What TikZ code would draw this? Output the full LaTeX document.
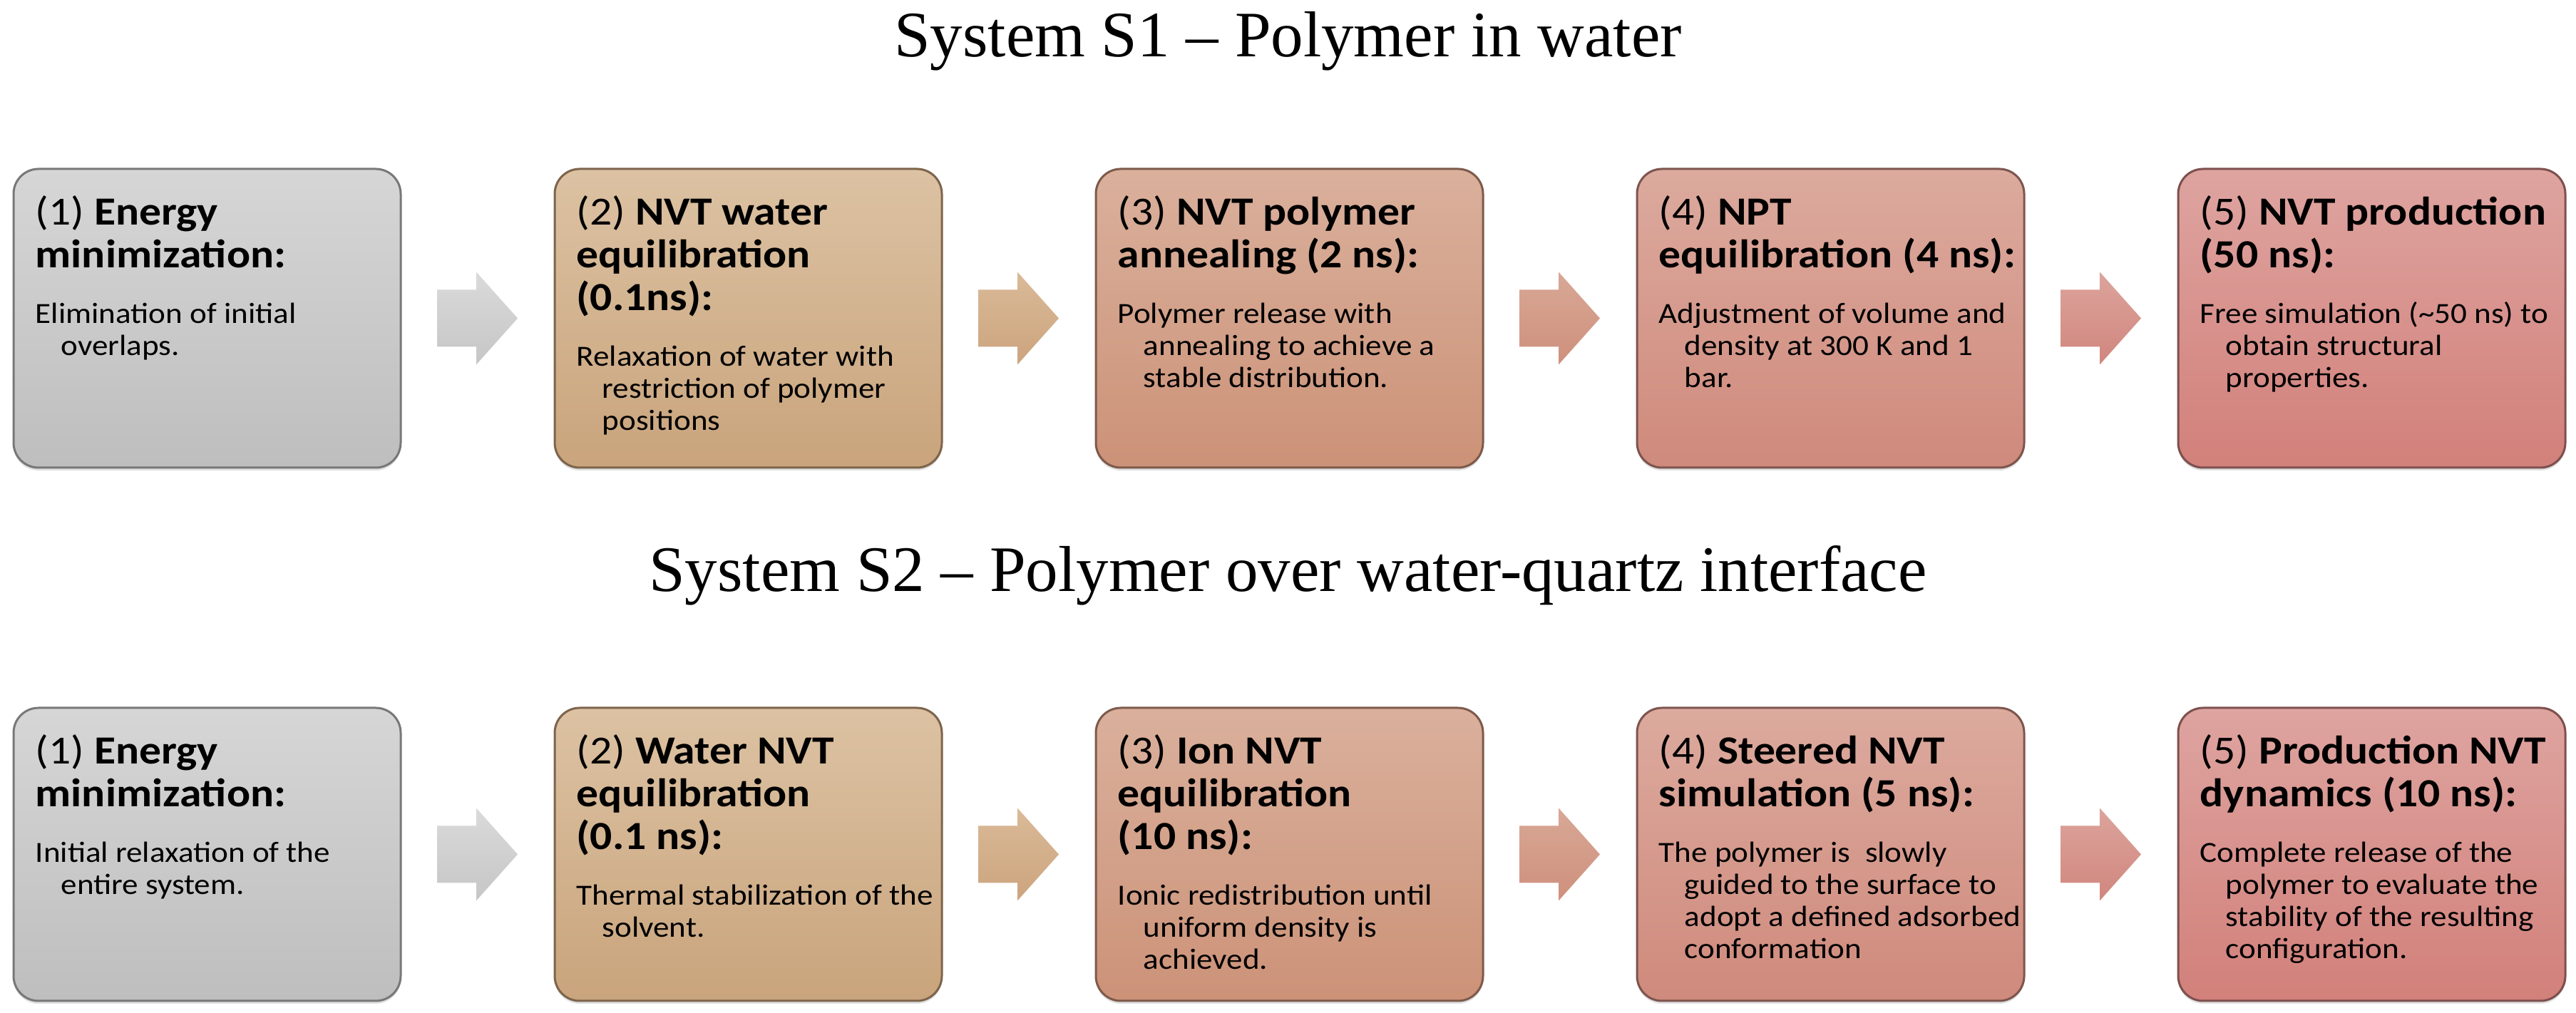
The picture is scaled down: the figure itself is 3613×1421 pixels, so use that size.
\documentclass[tikz,border=0pt]{standalone}
\usepackage{fontspec}
\setmainfont{Carlito}[FakeStretch=1.1]
\newfontfamily\titlefont{Liberation Serif}
\usetikzlibrary{calc,shadows}
\definecolor{g1t}{RGB}{214,214,214}\definecolor{g1b}{RGB}{190,190,190}\definecolor{g1d}{RGB}{120,120,120}
\definecolor{g2t}{RGB}{220,194,163}\definecolor{g2b}{RGB}{201,164,124}\definecolor{g2d}{RGB}{125,100,75}
\definecolor{g3t}{RGB}{218,176,156}\definecolor{g3b}{RGB}{204,146,120}\definecolor{g3d}{RGB}{125,90,75}
\definecolor{g4t}{RGB}{220,170,158}\definecolor{g4b}{RGB}{207,138,124}\definecolor{g4d}{RGB}{125,85,78}
\definecolor{g5t}{RGB}{222,164,160}\definecolor{g5b}{RGB}{210,128,122}\definecolor{g5d}{RGB}{125,80,78}
\definecolor{a1t}{RGB}{218,218,218}\definecolor{a1b}{RGB}{198,198,198}
\definecolor{a2t}{RGB}{218,186,152}\definecolor{a2b}{RGB}{204,164,126}
\definecolor{a3t}{RGB}{216,168,150}\definecolor{a3b}{RGB}{206,144,124}
\definecolor{a4t}{RGB}{220,164,156}\definecolor{a4b}{RGB}{208,134,126}
\tikzset{
  stepbox/.style={rectangle, rounded corners=35pt, minimum width=543pt, inner sep=0pt, line width=3pt,
    drop shadow={shadow xshift=0pt, shadow yshift=-4pt, opacity=0.25}},
  rowone/.style={minimum height=419pt},
  rowtwo/.style={minimum height=411pt},
  headline/.style={anchor=base west, inner sep=0pt, font=\fontsize{56}{60}\selectfont},
  bodyline/.style={anchor=base west, inner sep=0pt, font=\fontsize{41}{45}\selectfont},
  titletext/.style={anchor=base, inner sep=0pt, font=\titlefont\fontsize{91}{98}\selectfont},
}
\newcommand{\steptext}[4]{%
  \foreach \lineitem [count=\k] in {#3} {
    \node[headline] (#1h\k) at ($(#1.north west)+(32,{-80-60*(\k-1)})$) {\lineitem};
  }
  \foreach \lineitem [count=\k] in {#4} {
    \pgfmathsetmacro{\yy}{-80-60*(#2-1)-78-45*(\k-1)}
    \pgfmathsetmacro{\xx}{\k>1 ? 68 : 32}
    \node[bodyline] (#1d\k) at ($(#1.north west)+(\xx,\yy)$) {\lineitem};
  }
}
\newcommand{\blockarrow}[5]{%
  \coordinate (#5) at ($(#1.east)!0.5!(#2.west)$);
  \shade[top color=#3, bottom color=#4] ($(#5)+(-57,40)$) -- ($(#5)+(-2,40)$) -- ($(#5)+(-2,65)$)
    -- ($(#5)+(56,0)$) -- ($(#5)+(-2,-65)$) -- ($(#5)+(-2,-40)$) -- ($(#5)+(-57,-40)$) -- cycle;
}
\begin{document}
\begin{tikzpicture}[x=1pt,y=1pt]
\useasboundingbox[fill=white] (0,0) rectangle (3613,1421);
% titles
\node[titletext] (t1) at (1806.5,1341) {System S1 – Polymer in water};
\node[titletext] (t2) at (1806.5,591) {System S2 – Polymer over water-quartz interface};
% row 1 boxes
\node[stepbox,rowone,top color=g1t,bottom color=g1b,draw=g1d] (b1) at (290.5,974.5) {};
\node[stepbox,rowone,top color=g2t,bottom color=g2b,draw=g2d] (b2) at (1049.5,974.5) {};
\node[stepbox,rowone,top color=g3t,bottom color=g3b,draw=g3d] (b3) at (1808.5,974.5) {};
\node[stepbox,rowone,top color=g4t,bottom color=g4b,draw=g4d] (b4) at (2567.5,974.5) {};
\node[stepbox,rowone,top color=g5t,bottom color=g5b,draw=g5d] (b5) at (3326.5,974.5) {};
% row 2 boxes
\node[stepbox,rowtwo,top color=g1t,bottom color=g1b,draw=g1d] (c1) at (290.5,222.5) {};
\node[stepbox,rowtwo,top color=g2t,bottom color=g2b,draw=g2d] (c2) at (1049.5,222.5) {};
\node[stepbox,rowtwo,top color=g3t,bottom color=g3b,draw=g3d] (c3) at (1808.5,222.5) {};
\node[stepbox,rowtwo,top color=g4t,bottom color=g4b,draw=g4d] (c4) at (2567.5,222.5) {};
\node[stepbox,rowtwo,top color=g5t,bottom color=g5b,draw=g5d] (c5) at (3326.5,222.5) {};
% arrows
\blockarrow{b1}{b2}{a1t}{a1b}{ab1}
\blockarrow{b2}{b3}{a2t}{a2b}{ab2}
\blockarrow{b3}{b4}{a3t}{a3b}{ab3}
\blockarrow{b4}{b5}{a4t}{a4b}{ab4}
\blockarrow{c1}{c2}{a1t}{a1b}{ac1}
\blockarrow{c2}{c3}{a2t}{a2b}{ac2}
\blockarrow{c3}{c4}{a3t}{a3b}{ac3}
\blockarrow{c4}{c5}{a4t}{a4b}{ac4}
% texts row 1
\steptext{b1}{2}{{(1) \textbf{Energy}},{\textbf{minimization:}}}{{Elimination of initial},{overlaps.}}
\steptext{b2}{3}{{(2) \textbf{NVT water}},{\textbf{equilibration}},{\textbf{(0.1ns):}}}{{Relaxation of water with},{restriction of polymer},{positions}}
\steptext{b3}{2}{{(3) \textbf{NVT polymer}},{\textbf{annealing (2 ns):}}}{{Polymer release with},{annealing to achieve a},{stable distribution.}}
\steptext{b4}{2}{{(4) \textbf{NPT}},{\textbf{equilibration (4 ns):}}}{{Adjustment of volume and},{density at 300 K and 1},{bar.}}
\steptext{b5}{2}{{(5) \textbf{NVT production}},{\textbf{(50 ns):}}}{{Free simulation (\textasciitilde 50 ns) to},{obtain structural},{properties.}}
% texts row 2
\steptext{c1}{2}{{(1) \textbf{Energy}},{\textbf{minimization:}}}{{Initial relaxation of the},{entire system.}}
\steptext{c2}{3}{{(2) \textbf{Water NVT}},{\textbf{equilibration}},{\textbf{(0.1 ns):}}}{{Thermal stabilization of the},{solvent.}}
\steptext{c3}{3}{{(3) \textbf{Ion NVT}},{\textbf{equilibration}},{\textbf{(10 ns):}}}{{Ionic redistribution until},{uniform density is},{achieved.}}
\steptext{c4}{2}{{(4) \textbf{Steered NVT}},{\textbf{simulation (5 ns):}}}{{The polymer is\ \ slowly},{guided to the surface to},{adopt a defined adsorbed},{conformation}}
\steptext{c5}{2}{{(5) \textbf{Production NVT}},{\textbf{dynamics (10 ns):}}}{{Complete release of the},{polymer to evaluate the},{stability of the resulting},{configuration.}}
\end{tikzpicture}
\end{document}
